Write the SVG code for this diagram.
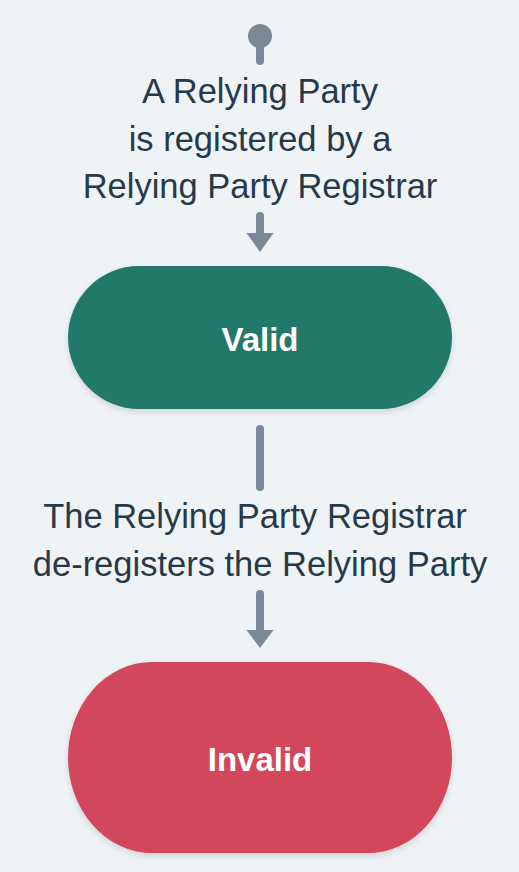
<svg xmlns="http://www.w3.org/2000/svg" width="519" height="872" viewBox="0 0 519 872">
  <style>
    .lbl { font-family: "Liberation Sans", Arial, sans-serif; font-size: 34.5px; fill: #263a4a; text-anchor: middle; }
    .state { font-family: "Liberation Sans", Arial, sans-serif; font-size: 33px; font-weight: bold; fill: #ffffff; text-anchor: middle; }
    .conn { stroke: #7a8898; stroke-width: 8; stroke-linecap: round; fill: none; }
    .head { fill: #7a8898; }
  </style>
  <defs>
    <filter id="shadow" x="-10%" y="-20%" width="120%" height="150%">
      <feDropShadow dx="0" dy="3" stdDeviation="3" flood-color="#000000" flood-opacity="0.12"/>
    </filter>
  </defs>
  <rect x="0" y="0" width="519" height="872" fill="#eff3f6"/>

  <g id="connectors">
    <circle cx="260" cy="36" r="12" class="head"/>
    <line x1="260" y1="40" x2="260" y2="61" class="conn"/>
    <text class="lbl" x="260" y="103">A Relying Party</text>
    <text class="lbl" x="260" y="151">is registered by a</text>
    <text class="lbl" x="260" y="198">Relying Party Registrar</text>
    <line x1="260" y1="216" x2="260" y2="236" class="conn"/>
    <polygon points="246.5,233 273.5,233 260,252" class="head"/>

    <line x1="260" y1="429" x2="260" y2="487" class="conn"/>
    <text class="lbl" x="255" y="528">The Relying Party Registrar</text>
    <text class="lbl" x="260" y="576">de-registers the Relying Party</text>
    <line x1="260" y1="594" x2="260" y2="633" class="conn"/>
    <polygon points="246.5,630 273.5,630 260,648" class="head"/>
  </g>

  <g id="node-valid">
    <rect x="68" y="266" width="384" height="143" rx="71" ry="71.5" fill="#20796a" filter="url(#shadow)"/>
    <text class="state" x="260" y="351">Valid</text>
  </g>

  <g id="node-invalid">
    <rect x="68" y="662" width="384" height="191" rx="84" ry="95.5" fill="#d3475b" filter="url(#shadow)"/>
    <text class="state" x="260" y="771">Invalid</text>
  </g>
</svg>
